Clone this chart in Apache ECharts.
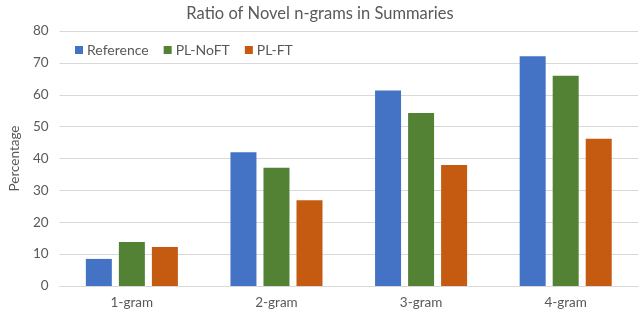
<!DOCTYPE html>
<html><head><meta charset="utf-8">
<script src="https://cdn.jsdelivr.net/npm/echarts@6/dist/echarts.min.js"></script>
<style>html,body{margin:0;padding:0;background:#fff}#c{width:640px;height:311px}</style>
</head><body><div id="c"></div>
<script>
const categories = ['1-gram', '2-gram', '3-gram', '4-gram'];
const seriesNames = ['Reference', 'PL-NoFT', 'PL-FT'];
const reference = [8.5, 42.0, 61.3, 72.1];
const plNoFT = [13.8, 37.1, 54.3, 66.0];
const plFT = [12.2, 26.9, 38.0, 46.2];
const colors = ['#4472C4', '#548235', '#C55A11'];
const F = 'Lato, "Open Sans", sans-serif';
const chart = echarts.init(document.getElementById('c'));
const vals = [reference, plNoFT, plFT];
chart.setOption({
  animation: false,
  title: { text: 'Ratio of Novel n-grams in Summaries', left: 'center', top: 0,
    textStyle: { fontFamily: F, fontSize: 16.5, fontWeight: 'normal', color: '#595959' } },
  legend: { left: 70, top: 38, itemWidth: 8, itemHeight: 8, itemGap: 15,
    icon: 'rect', textStyle: { fontFamily: F, fontSize: 14, color: '#595959', padding: [0,0,0,-1] },
    data: seriesNames },
  grid: { left: 43, right: 2, top: 31, bottom: 25 },
  xAxis: { type: 'category', data: categories,
    axisLine: { lineStyle: { color: '#d9d9d9' } }, axisTick: { show: false },
    axisLabel: { fontFamily: F, fontSize: 13.5, color: '#595959', margin: 10 } },
  yAxis: { type: 'value', min: 0, max: 80, interval: 10,
    name: 'Percentage', nameLocation: 'middle', nameGap: 28, nameRotate: 90,
    nameTextStyle: { fontFamily: F, fontSize: 13.5, color: '#595959' },
    axisLabel: { fontFamily: F, fontSize: 13.5, color: '#595959', margin: 11 },
    splitLine: { lineStyle: { color: '#d9d9d9' } } },
  series: vals.map((v, i) => ({
    name: seriesNames[i], type: 'bar', data: v, barWidth: 26, barGap: '27%',
    itemStyle: { color: colors[i] }
  }))
});
</script></body></html>
